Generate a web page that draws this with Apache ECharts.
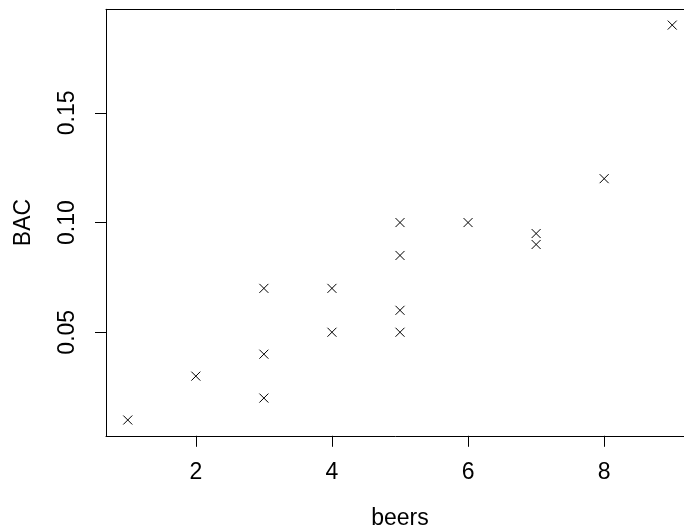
<!DOCTYPE html>
<html>
<head>
<meta charset="utf-8">
<script src="https://cdn.jsdelivr.net/npm/echarts@6/dist/echarts.min.js"></script>
<style>
html,body{margin:0;padding:0;background:#fff;}
#chart{width:684px;height:527px;}
</style>
</head>
<body>
<div id="chart"></div>
<script>
const beers = [5, 2, 9, 8, 3, 7, 3, 5, 3, 5, 4, 6, 5, 7, 1, 4];
const bac = [0.10, 0.03, 0.19, 0.12, 0.04, 0.095, 0.07, 0.06, 0.02, 0.05, 0.07, 0.10, 0.085, 0.09, 0.01, 0.05];
const xTicks = [2, 4, 6, 8];
const yTicks = [0.05, 0.10, 0.15];
const yTickLabels = ['0.05', '0.10', '0.15'];

const points = beers.map((b, i) => [b, bac[i]]);
const font = 'Liberation Sans, Arial, Helvetica, sans-serif';

const chart = echarts.init(document.getElementById('chart'), null, {renderer: 'canvas'});
chart.setOption({
  animation: false,
  backgroundColor: '#fff',
  grid: {
    left: 106, top: 9.3, width: 588, height: 426.5,
    outerBoundsMode: 'none', containLabel: false,
    show: false
  },
  xAxis: [{
    type: 'value', min: 0.68, max: 9.32,
    name: 'beers', nameLocation: 'middle', nameGap: 71,
    nameTextStyle: {fontFamily: font, fontSize: 23, color: '#000'},
    axisLine: {show: true, lineStyle: {color: '#000', width: 1}},
    axisTick: {show: true, inside: false, length: 11, customValues: xTicks, lineStyle: {color: '#000'}},
    axisLabel: {show: true, customValues: xTicks, margin: 25, fontFamily: font, fontSize: 23, color: '#000'},
    splitLine: {show: false}
  }, {
    type: 'value', position: 'top', min: 0.68, max: 9.32,
    axisLine: {show: true, lineStyle: {color: '#000', width: 1}},
    axisTick: {show: false}, axisLabel: {show: false}, splitLine: {show: false}
  }],
  yAxis: {
    type: 'value', min: 0.0028, max: 0.1972,
    name: 'BAC', nameLocation: 'middle', nameGap: 71, nameRotate: 90,
    nameTextStyle: {fontFamily: font, fontSize: 23, color: '#000'},
    axisLine: {show: true, lineStyle: {color: '#000', width: 1}},
    axisTick: {show: true, inside: false, length: 11, customValues: yTicks, lineStyle: {color: '#000'}},
    axisLabel: {
      show: true, customValues: yTicks, rotate: 90, margin: 27,
      fontFamily: font, fontSize: 23, color: '#000',
      formatter: v => { const i = yTicks.findIndex(t => Math.abs(t - v) < 1e-9); return i >= 0 ? yTickLabels[i] : ''; }
    },
    splitLine: {show: false}
  },
  series: [{
    type: 'scatter',
    xAxisIndex: 0,
    data: points,
    symbol: 'path://M0,0L10,10M10,0L0,10',
    symbolSize: 9,
    itemStyle: {color: 'transparent', borderColor: '#000', borderWidth: 1, opacity: 1}
  }]
});
</script>
</body>
</html>
